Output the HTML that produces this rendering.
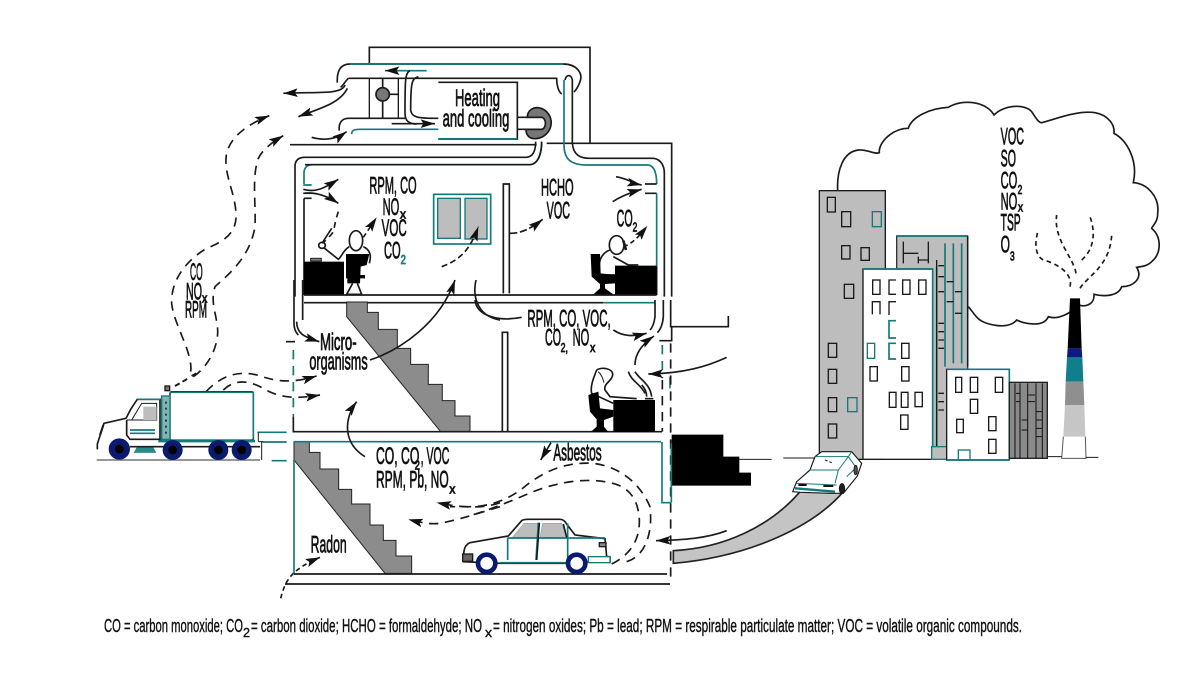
<!DOCTYPE html>
<html><head><meta charset="utf-8"><style>
html,body{margin:0;padding:0;background:#fff}
svg{display:block}
.z path,.z line,.z ellipse,.z circle{stroke:#1a1a1a;stroke-width:5;fill:none}
.z rect{stroke:#1a1a1a;stroke-width:4;fill:none}
.z .t{stroke:#137a7a}
.z .d{stroke-dasharray:28 20}
.z .f{stroke:none}
text{font-family:"Liberation Sans",sans-serif;fill:#111;stroke:#111;stroke-width:2.4}
.z text{font-size:72px}
.z text.s{font-size:38px}
</style></head><body>
<svg width="1200" height="675" viewBox="0 0 1200 675" xmlns="http://www.w3.org/2000/svg">
<defs>
<marker id="a" markerUnits="userSpaceOnUse" markerWidth="44" markerHeight="26" viewBox="0 0 10 6" refX="10" refY="3" orient="auto"><path d="M0 0L10 3L0 6L2 3Z" style="fill:#111;stroke:none"/></marker>
</defs>
<rect width="1200" height="675" fill="#fff"/>

<!-- Z4: city -->
<g class="z" transform="translate(790,100) scale(.33333)">
<path d="M143 272C140 210 160 155 205 150C235 148 255 165 268 158C265 125 310 85 355 85C365 50 420 25 475 22C520 -5 590 5 612 45C640 15 705 10 725 35C735 50 745 68 755 68C790 60 860 30 915 38C955 45 975 75 972 100C1010 120 1045 180 1030 248C1070 250 1110 290 1103 340C1105 365 1085 380 1085 385C1115 410 1115 460 1085 485C1070 500 1050 500 1040 502C1060 535 1030 560 995 560C985 590 940 590 912 583C915 615 880 625 862 612C850 640 800 660 775 650C760 685 700 670 680 660C655 690 590 675 570 660C555 650 545 630 535 620"/>
<rect x="88" y="272" width="198" height="806" style="fill:#bdbdbd"/>
<rect x="320" y="408" width="213" height="670" style="fill:#bdbdbd;stroke:#333"/>
<path class="t" d="M320 408H533M533 408V800M440 500V1040M465 430V800M490 430V790M515 430V790"/>
<path style="stroke-width:4" d="M340 425V490M385 470V490M415 425V490M440 480V1040M533 408V800M340 460H385M385 480H415M445 497H462M445 530H462M445 575H462M470 545H490M495 575H515M470 605H490M495 640H515M445 670H462M445 695H462M445 720H462M445 745H462M445 880H462M445 905H462M445 930H462"/>
<rect x="219" y="507" width="209" height="571" style="fill:#fff"/>
<path class="t" d="M219 507H428V1078"/>
<rect x="425" y="1040" width="50" height="38" style="fill:#bdbdbd;stroke:#137a7a"/>
<rect x="470" y="808" width="188" height="272" style="fill:#fff"/>
<path class="t" d="M470 808H658V1080M470 1080H658"/>
<rect x="658" y="847" width="114" height="228" style="fill:#8a8a8a;stroke:#222"/>
<path style="stroke:#111;stroke-width:3" d="M675 850V1075M690 850V1075M713 850V1075M738 850V1075M757 850V1075M678 880H690M678 905H690M715 885H735M715 905H735M738 935H755M738 960H755M738 985H755M738 1010H755M695 960H712M695 990H712"/>
<g>
<rect x="112" y="292" width="24" height="44"/><rect x="155" y="335" width="27" height="45"/><rect class="t" x="247" y="335" width="27" height="45"/>
<rect x="155" y="437" width="25" height="40"/><rect x="213" y="443" width="25" height="38"/><rect x="163" y="553" width="28" height="42"/>
<rect x="115" y="730" width="25" height="42"/><rect x="115" y="808" width="25" height="42"/><rect x="115" y="893" width="25" height="42"/><rect class="t" x="173" y="893" width="28" height="42"/><rect x="115" y="972" width="25" height="42"/>
<rect x="248" y="540" width="22" height="43"/><rect x="338" y="540" width="22" height="43"/><rect x="386" y="540" width="22" height="43"/>
<path style="stroke-width:4" d="M318 540H297V583H318M247 643V605H270V643M297 645V605H318"/>
<path class="t" d="M318 662H297V714H318M318 730H297V777H318"/>
<rect class="t" x="232" y="730" width="22" height="45"/><rect x="335" y="730" width="22" height="45"/><rect x="240" y="800" width="22" height="43"/><rect x="335" y="800" width="22" height="43"/>
<rect x="298" y="877" width="20" height="45"/><rect x="334" y="877" width="20" height="45"/><rect x="375" y="877" width="22" height="43"/><rect x="332" y="945" width="22" height="43"/>
<rect x="497" y="832" width="18" height="45"/><rect x="541" y="832" width="22" height="45"/><rect x="616" y="832" width="22" height="45"/><rect x="541" y="898" width="22" height="42"/><rect x="500" y="958" width="20" height="40"/><rect x="596" y="950" width="22" height="42"/><rect x="596" y="1018" width="22" height="42"/><rect class="t" x="505" y="1050" width="35" height="30"/>
</g>
<!-- chimney -->
<polygon class="f" points="840,595 870,595 875,745 833,745" fill="#000"/>
<polygon class="f" points="833,745 875,745 877,772 831,772" fill="#0a1a80"/>
<polygon class="f" points="831,772 877,772 880,845 827,845" fill="#0f7f8c"/>
<polygon class="f" points="827,845 880,845 883,915 825,915" fill="#8f8f8f"/>
<polygon class="f" points="825,915 883,915 886,1010 820,1010" fill="#c6c6c6"/>
<path d="M820 1010L815 1075H888L886 1010" style="stroke-width:3;stroke:#555"/>
<path d="M772 1070H815M888 1072H925" style="stroke-width:3"/>
<path class="d" style="stroke-dasharray:14 11" d="M840 560C850 520 800 490 760 480C740 470 730 440 745 390"/>
<path class="d" style="stroke-dasharray:14 11" d="M858 520C850 470 790 420 800 345"/>
<path class="d" style="stroke-dasharray:14 11" d="M870 565C890 530 960 500 965 405"/>
<path class="d" style="stroke-dasharray:14 11" d="M875 480C910 450 920 400 898 345"/>
<text x="632" y="133" textLength="70" lengthAdjust="spacingAndGlyphs">VOC</text>
<text x="632" y="200" textLength="46" lengthAdjust="spacingAndGlyphs">SO</text>
<text x="632" y="265" textLength="50" lengthAdjust="spacingAndGlyphs">CO</text>
<text class="s" x="683" y="282" textLength="14" lengthAdjust="spacingAndGlyphs">2</text>
<text x="632" y="328" textLength="50" lengthAdjust="spacingAndGlyphs">NO</text>
<text class="s" x="684" y="335" textLength="15" lengthAdjust="spacingAndGlyphs">x</text>
<text x="632" y="392" textLength="60" lengthAdjust="spacingAndGlyphs">TSP</text>
<text x="632" y="458" textLength="28" lengthAdjust="spacingAndGlyphs">O</text>
<text class="s" x="660" y="482" textLength="14" lengthAdjust="spacingAndGlyphs">3</text>
</g>

<!-- Z3 outside: driveway, steps -->
<g class="z" transform="translate(450,300) scale(.33333)">
<path d="M670 752C820 745 960 680 1050 575L1180 575C1090 680 900 770 670 790Z" style="fill:#c4c4c4;stroke:#222"/>
<polygon class="f" points="665,404 820,404 820,470 868,470 868,518 903,518 903,557 665,557" fill="#000"/>
<path d="M868 478H965M1000 474H1110" style="stroke-width:3"/>
<path d="M1238 478H1300" style="stroke-width:3"/>
</g>
<!-- moving car -->
<g class="z" transform="translate(780,440) scale(.33333)">
<path d="M38 155L50 125L90 90L105 50L125 35L215 35L245 70L232 108L190 160L150 160L60 157Z" style="fill:#fff;stroke-width:3.5"/>
<path d="M105 50H205L175 90H90M215 35L205 50M175 90L165 130M50 130L170 135M205 50L230 85M200 110L232 80" style="stroke-width:3;stroke:#137a7a"/>
<path d="M135 60L160 70" style="stroke-width:3;stroke-dasharray:8 6"/>
<path d="M45 145L165 155" style="stroke-width:7;stroke:#137a7a"/>
<path d="M55 135H80M130 138H160" style="stroke-width:6;stroke:#111"/>
<ellipse cx="186" cy="146" rx="7" ry="14" style="fill:#222"/>
<ellipse cx="227" cy="90" rx="5" ry="14" style="fill:#555;stroke-width:3"/>
</g>

<!-- Z1: upper building -->
<g class="z" transform="translate(270,30) scale(.33333)">
<path d="M298 100V52H960V340"/>
<path d="M60 344H800M830 340H1205V800"/>
<!-- ducts -->
<path d="M202 158C200 125 210 102 240 102H880C920 102 940 130 930 155C925 170 918 180 912 186"/>
<path class="t" d="M240 102H880"/>
<path d="M235 145H860C860 165 865 185 875 192"/>
<path d="M235 145C225 155 220 165 212 172"/>
<path class="t" d="M882 150V345C882 385 900 405 950 405H1135C1155 408 1160 435 1160 462"/>
<path d="M885 150C890 130 905 135 907 150V340C910 375 930 385 960 385H1150C1175 388 1183 410 1183 430V800"/>
<path d="M470 122H345" class="t" style="marker-end:url(#a)"/>
<path d="M420 122C405 130 405 150 405 250C405 275 420 282 440 282"/>
<path d="M445 140C425 145 422 160 422 240C425 262 440 265 505 265"/>
<path d="M208 302C205 280 215 265 235 265H405"/>
<path d="M245 312C245 300 255 298 270 298H505" class="t"/>
<path d="M365 281H495" style="marker-end:url(#a)"/>
<path d="M125 322C160 332 195 330 230 305" style="marker-end:url(#a)"/>
<rect x="298" y="145" width="87" height="120"/>
<path d="M338 145V265M358 193H385"/>
<circle cx="338" cy="193" r="20" style="fill:#777"/>
<path d="M505 157H742V327H505"/>
<path class="t" d="M505 327H742"/>
<!-- fan -->
<path d="M772 262C772 240 790 232 805 233C835 238 848 265 842 290C835 315 810 330 785 325C775 322 768 312 768 298L815 298C830 295 830 265 815 262Z" style="fill:#777"/>
<path d="M742 262H815M742 298H815"/>
<!-- ceiling ducts -->
<path d="M75 800V410C75 392 85 382 105 382H770C790 380 797 360 797 335"/>
<path d="M102 462V425C105 408 115 404 130 404H780C805 402 815 370 815 335" class="t"/>
<path d="M105 404H780C805 402 815 370 815 335"/>
<path d="M100 465H125M100 490H125" class="t"/>
<path d="M102 505H125M102 505V795"/>
<path d="M1125 462H1160M1125 490H1160"/>
<path class="t" d="M1160 490V710"/>
<path d="M1160 710V795"/>
<path d="M102 795H1160M102 818H1000"/>
<path class="t" d="M1000 818H1155"/>
<!-- interior wall -->
<path d="M700 790V462H718V790"/>
<!-- window -->
<rect class="t" x="491" y="493" width="171" height="149" style="stroke-width:5"/>
<rect x="503" y="505" width="68" height="120" style="fill:#bdbdbd;stroke:#137a7a"/>
<rect x="585" y="505" width="66" height="122" style="fill:#bdbdbd;stroke:#137a7a"/>
<!-- arrows -->
<path d="M100 478C140 490 170 470 205 448" style="marker-end:url(#a)"/>
<path d="M100 490C140 485 175 500 205 520" style="marker-end:url(#a)"/>
<path class="d" style="stroke-dasharray:18 14" d="M205 545C190 590 195 600 185 612C175 625 165 630 158 642"/>
<path class="d" style="stroke-dasharray:14 10;marker-end:url(#a)" d="M280 622L320 562"/>
<path class="d" style="stroke-dasharray:18 10;marker-end:url(#a)" d="M515 710C570 690 600 660 625 590"/>
<path class="d" style="stroke-dasharray:22 8;marker-end:url(#a)" d="M720 610C760 610 790 590 818 568"/>
<path d="M1038 440C1070 445 1090 460 1115 465" style="marker-end:url(#a)"/>
<path d="M1028 515C1060 495 1090 485 1115 478" style="marker-end:url(#a)"/>
<path class="d" style="stroke-dasharray:14 10;marker-end:url(#a)" d="M1060 650C1090 640 1110 615 1132 588"/>
<!-- person left -->
<polygon class="f" points="102,695 222,695 222,793 102,793" fill="#000"/>
<rect x="122" y="685" width="32" height="8" style="stroke-width:3;fill:#888"/>
<ellipse cx="258" cy="632" rx="20" ry="30" style="fill:#fff"/>
<path d="M238 650C220 660 215 680 205 688L160 652M280 650C300 660 305 675 298 700" style="fill:#fff"/>
<ellipse cx="156" cy="646" rx="10" ry="9" style="fill:#fff"/>
<path d="M156 640L185 595"/>
<polygon class="f" points="228,672 298,672 290,705 272,710 270,760 232,760 232,735 285,735 285,745 228,745" fill="#000"/>
<path d="M248 760L230 793H275L262 760" style="fill:#fff"/>
<!-- person right -->
<polygon class="f" points="1035,707 1160,707 1160,793 1035,793" fill="#000"/>
<ellipse cx="1040" cy="645" rx="22" ry="28" style="fill:#fff"/>
<path d="M1060 632L1068 660" style="stroke-width:8"/>
<path d="M1020 660C990 670 985 700 985 735L1035 735M1030 680L1075 705H1105" style="fill:#fff"/>
<polygon class="f" points="962,672 990,672 992,730 1035,735 1035,760 1005,762 1005,775 1030,793 970,793 990,775 990,762 965,740" fill="#000"/>
<!-- text -->
<text x="298" y="490" textLength="142" lengthAdjust="spacingAndGlyphs">RPM, CO</text>
<text x="338" y="555" textLength="50" lengthAdjust="spacingAndGlyphs">NO</text>
<text class="s" x="390" y="566" textLength="18" lengthAdjust="spacingAndGlyphs">x</text>
<text x="335" y="618" textLength="75" lengthAdjust="spacingAndGlyphs">VOC</text>
<text x="342" y="685" textLength="50" lengthAdjust="spacingAndGlyphs">CO</text>
<text class="s" x="392" y="702" textLength="16" lengthAdjust="spacingAndGlyphs" style="fill:#137a7a;stroke:#137a7a">2</text>
<text x="813" y="497" textLength="98" lengthAdjust="spacingAndGlyphs">HCHO</text>
<text x="830" y="565" textLength="70" lengthAdjust="spacingAndGlyphs">VOC</text>
<text x="1040" y="590" textLength="48" lengthAdjust="spacingAndGlyphs">CO</text>
<text class="s" x="1088" y="604" textLength="14" lengthAdjust="spacingAndGlyphs">2</text>
<text x="555" y="228" textLength="135" lengthAdjust="spacingAndGlyphs">Heating</text>
<text x="518" y="290" textLength="200" lengthAdjust="spacingAndGlyphs">and cooling</text>
</g>

<!-- Z7: left arrows -->
<g class="z" transform="translate(150,70) scale(.33333)">
<path d="M585 45C575 75 500 65 400 70" style="marker-end:url(#a)"/>
<path d="M592 55C570 100 510 115 445 140" style="marker-end:url(#a)"/>
<path class="d" d="M122 905C130 850 70 760 65 700C62 630 110 570 170 535C220 515 262 490 258 430C255 370 225 320 228 265C232 200 300 160 358 137" style="marker-end:url(#a)"/>
<path class="d" d="M130 920C175 890 205 830 203 780C200 730 180 700 195 650C240 610 300 560 315 470C318 400 305 320 325 265C340 235 370 215 400 197" style="marker-end:url(#a)"/>
<text x="120" y="630" textLength="38" lengthAdjust="spacingAndGlyphs">CO</text>
<text x="108" y="688" textLength="48" lengthAdjust="spacingAndGlyphs">NO</text>
<text class="s" x="156" y="698" textLength="16" lengthAdjust="spacingAndGlyphs">x</text>
<text x="105" y="742" textLength="66" lengthAdjust="spacingAndGlyphs">RPM</text>
</g>

<!-- Z2: middle/basement -->
<g class="z" transform="translate(80,280) scale(.33333)">
<path d="M642 0V130C642 150 650 160 655 165M668 0V120"/>
<polygon points="800,66 862,66 862,97 895,97 895,148 952,148 952,205 992,205 992,253 1045,253 1045,313 1087,313 1087,362 1125,362 1125,408 1170,408 1170,455 1082,455 800,110" style="fill:#8c8c8c;stroke:#222;stroke-width:3"/>
<polygon points="642,485 688,485 688,517 720,517 720,567 776,567 776,628 815,628 815,672 870,672 870,735 910,735 910,781 948,781 948,828 995,828 995,880 915,880 642,540" style="fill:#8c8c8c;stroke:#222;stroke-width:3"/>
<path d="M618 185H645"/>
<path class="t d" d="M640 210V410"/>
<path d="M640 410V455H1746"/>
<path class="t" d="M642 485H1743M642 540V880"/>
<path d="M642 882H1761M615 912H1770"/>
<path d="M650 125C650 160 670 170 718 185" style="marker-end:url(#a)"/>
<path d="M870 240C960 210 1080 130 1125 0" style="marker-end:url(#a)"/>
<path d="M855 530C790 490 790 420 830 365" style="marker-end:url(#a)"/>
<path class="d" d="M378 335C420 290 470 270 530 285C580 300 620 315 710 288" style="marker-end:url(#a)"/>
<path class="d" d="M430 330C460 300 500 300 540 320C590 350 630 360 720 345" style="marker-end:url(#a)"/>
<path class="d" style="stroke-dasharray:14 10;marker-end:url(#a)" d="M602 955C615 905 630 870 720 832"/>
<path class="d" d="M1260 668C1200 690 1130 680 1070 668" style="marker-end:url(#a)"/>
<path class="d" d="M1260 680C1180 705 1130 720 1090 728C1060 735 1030 730 985 718" style="marker-end:url(#a)"/>
<path d="M1188 0C1175 60 1200 110 1260 120"/>
<text x="720" y="210" textLength="110" lengthAdjust="spacingAndGlyphs">Micro-</text>
<text x="688" y="268" textLength="175" lengthAdjust="spacingAndGlyphs">organisms</text>
<text x="888" y="552" textLength="130" lengthAdjust="spacingAndGlyphs">CO, CO</text>
<text class="s" x="1004" y="568" textLength="16" lengthAdjust="spacingAndGlyphs">2</text>
<text x="1022" y="552" textLength="86" lengthAdjust="spacingAndGlyphs">, VOC</text>
<text x="888" y="622" textLength="218" lengthAdjust="spacingAndGlyphs">RPM, Pb, NO</text>
<text class="s" x="1108" y="640" textLength="18" lengthAdjust="spacingAndGlyphs">x</text>
<text x="692" y="818" textLength="108" lengthAdjust="spacingAndGlyphs">Radon</text>
</g>

<!-- Z3: right side of building -->
<g class="z" transform="translate(450,300) scale(.33333)">
<path d="M615 0V50C612 75 605 85 600 90M640 0V50C638 75 630 90 622 98"/>
<path d="M662 0V80H835V48M628 122H665V80"/>
<path class="d t" d="M637 135V235"/>
<path class="d" d="M637 240V395"/>
<path class="t" d="M660 230V265"/>
<path class="d" d="M662 130V850"/>
<path d="M157 396V97H173V396"/>
<path d="M636 426V608H664" class="t"/>
<path class="t" d="M664 430V608"/>
<!-- person -->
<polygon class="f" points="490,300 615,300 615,396 490,396" fill="#000"/>
<path d="M585 296H610" style="stroke-width:5"/>
<path d="M440 210C455 200 490 205 488 225C485 245 460 250 465 270L480 290L560 296M440 210C430 235 420 260 425 280L490 310" style="fill:#fff"/>
<path d="M445 215C455 225 460 240 462 248" style="stroke-width:3"/>
<polygon class="f" points="415,285 445,275 450,325 490,330 490,350 462,360 462,380 475,396 422,396 440,380 440,358 420,335" fill="#000"/>
<!-- smoke + arrows -->
<path d="M535 215C545 245 570 250 585 280M555 215C570 240 600 250 605 290M575 255C585 265 590 275 590 290"/>
<path d="M75 0C80 50 150 65 215 52"/>
<path d="M490 90C520 110 550 110 590 100" style="marker-end:url(#a)"/>
<path d="M555 195C555 160 580 130 612 108" style="marker-end:url(#a)"/>
<path d="M830 172C770 200 700 220 595 222" style="marker-end:url(#a)"/>
<path d="M830 692C770 715 700 720 618 722" style="marker-end:url(#a)"/>
<path d="M303 428L272 480" style="marker-end:url(#a)"/>
<path class="d" d="M485 792C530 770 570 730 568 660C565 600 540 560 480 548C420 535 340 540 250 575C190 600 120 630 50 650"/>
<path class="d" d="M530 785C580 770 610 710 600 620C570 550 510 500 430 490C350 485 290 510 230 555C190 590 130 620 60 620L0 620"/>
<!-- car -->
<path d="M40 770C42 745 45 735 60 728L175 708L215 662Q220 658 235 658H330Q342 658 350 672L375 705L465 716L470 770H480V785H420L345 790H150L40 785Z" style="fill:#fff"/>
<polygon points="187,712 222,670 270,670 262,712" style="fill:#bdbdbd;stroke:#137a7a"/>
<polygon points="270,712 278,670 335,670 350,712" style="fill:#bdbdbd;stroke:#137a7a"/>
<path d="M173 712V780M265 668L258 780M353 670V780M175 714H465M150 788H350" class="t"/>
<path d="M268 668L260 780M340 672L350 712" style="stroke-width:5"/>
<rect x="38" y="762" width="30" height="22" style="fill:#666"/>
<rect x="415" y="770" width="65" height="18" style="stroke:#137a7a;fill:#fff"/>
<rect x="448" y="728" width="20" height="12" style="fill:#888"/>
<circle cx="110" cy="790" r="26" style="fill:#fff;stroke:#0a1a6e;stroke-width:14"/>
<circle cx="380" cy="790" r="26" style="fill:#fff;stroke:#0a1a6e;stroke-width:14"/>
<text x="232" y="80" textLength="250" lengthAdjust="spacingAndGlyphs">RPM, CO, VOC,</text>
<text x="285" y="137" textLength="48" lengthAdjust="spacingAndGlyphs">CO</text>
<text class="s" x="332" y="156" textLength="22" lengthAdjust="spacingAndGlyphs">2,</text>
<text x="368" y="137" textLength="50" lengthAdjust="spacingAndGlyphs">NO</text>
<text class="s" x="420" y="156" textLength="16" lengthAdjust="spacingAndGlyphs">x</text>
<text x="310" y="482" textLength="145" lengthAdjust="spacingAndGlyphs">Asbestos</text>
</g>

<!-- truck -->
<g class="z" transform="translate(90,370) scale(.33333)">
<path class="d" style="stroke-dasharray:16 10;stroke-width:6" d="M255 48L295 25M305 18L328 5"/>
<rect x="225" y="48" width="14" height="14" style="fill:#777"/>
<rect x="240" y="65" width="250" height="145" rx="5" style="fill:#fff"/>
<path class="t" d="M240 67H490V205"/>
<path class="t" style="stroke-width:8" d="M205 213H495"/>
<rect x="215" y="78" width="25" height="130" style="fill:#7fb5b5;stroke:#137a7a"/>
<path d="M228 95V200" style="stroke:#222;stroke-width:5;stroke-dasharray:6 12"/>
<path d="M22 238L22 222L42 160L108 145L122 118L142 88H210V208H120L110 195V150" style="fill:#fff"/>
<path class="t" d="M142 88H210M120 190H195M120 180H195"/>
<path d="M110 150L125 150L155 100L200 100V150H125" style="stroke-width:3"/>
<rect x="160" y="110" width="40" height="40" style="fill:#bdbdbd;stroke:none"/>
<path d="M30 195L40 165" style="stroke-width:6"/>
<polygon points="140,233 190,233 198,248 132,248" style="fill:#2a8a8a;stroke:#137a7a"/>
<path d="M120 230H510" style="stroke-width:5"/>
<path d="M20 270H510" style="stroke:#888;stroke-width:5"/>
<path class="t" d="M545 272H590M502 187H590M518 216H590"/>
<path d="M505 215V187M505 215H520M515 215V270" style="stroke-width:3"/>
<circle cx="88" cy="237" r="32" style="fill:#0a1a6e;stroke:none"/>
<circle cx="248" cy="240" r="30" style="fill:#0a1a6e;stroke:none"/>
<circle cx="385" cy="240" r="30" style="fill:#0a1a6e;stroke:none"/>
<circle cx="455" cy="240" r="30" style="fill:#0a1a6e;stroke:none"/>
<circle cx="88" cy="237" r="13" style="fill:#000;stroke:none"/>
<circle cx="248" cy="240" r="13" style="fill:#000;stroke:none"/>
<circle cx="385" cy="240" r="13" style="fill:#000;stroke:none"/>
<circle cx="455" cy="240" r="13" style="fill:#000;stroke:none"/>
</g>

<!-- footer -->
<g>
<text x="104" y="632" font-size="18" textLength="139" lengthAdjust="spacingAndGlyphs" style="stroke-width:.4">CO = carbon monoxide; CO</text>
<text x="243" y="637" font-size="13" textLength="7" lengthAdjust="spacingAndGlyphs" style="stroke-width:.4">2</text>
<text x="251" y="632" font-size="18" textLength="231" lengthAdjust="spacingAndGlyphs" style="stroke-width:.4">= carbon dioxide; HCHO = formaldehyde; NO</text>
<text x="485" y="637" font-size="13" textLength="7" lengthAdjust="spacingAndGlyphs" style="stroke-width:.4">x</text>
<text x="493" y="632" font-size="18" textLength="529" lengthAdjust="spacingAndGlyphs" style="stroke-width:.4">= nitrogen oxides; Pb = lead; RPM = respirable particulate matter; VOC = volatile organic compounds.</text>
</g>
</svg>
</body></html>
